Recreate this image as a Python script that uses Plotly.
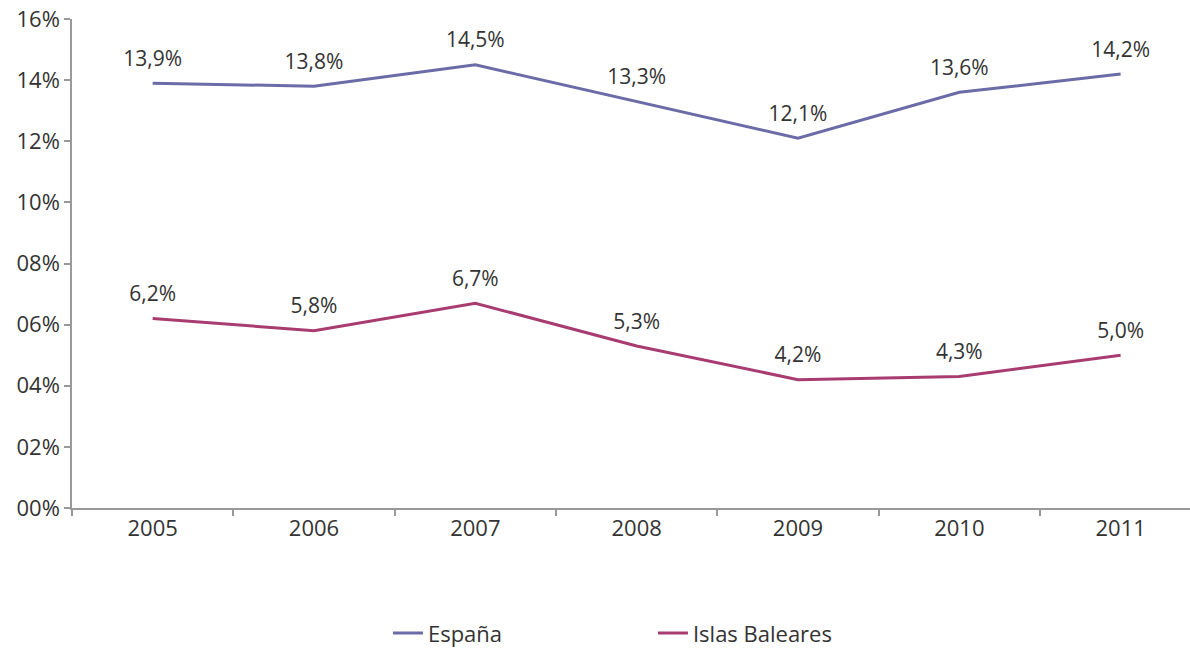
import plotly.graph_objects as go

years = ["2005", "2006", "2007", "2008", "2009", "2010", "2011"]
espana = [13.9, 13.8, 14.5, 13.3, 12.1, 13.6, 14.2]
baleares = [6.2, 5.8, 6.7, 5.3, 4.2, 4.3, 5.0]
y_tickvals = [0, 2, 4, 6, 8, 10, 12, 14, 16]
y_ticktext = ["00%", "02%", "04%", "06%", "08%", "10%", "12%", "14%", "16%"]

FONT = "Open Sans"
series = [("España", espana, "#6b6ba8"), ("Islas Baleares", baleares, "#a83c71")]

fig = go.Figure()
for name, vals, color in series:
    fig.add_trace(go.Scatter(
        x=years, y=vals, name=name,
        mode="lines+markers+text",
        line=dict(color=color, width=3),
        marker=dict(size=18, color="rgba(0,0,0,0)"),
        text=[f"{v:.1f}%".replace(".", ",") for v in vals],
        textposition="top center",
        textfont=dict(family=FONT, size=21, color="#333333"),
        cliponaxis=False,
    ))

fig.update_layout(
    width=1190, height=652,
    margin=dict(l=72, r=0, t=19, b=144, autoexpand=False),
    paper_bgcolor="white", plot_bgcolor="white",
    font=dict(family=FONT, size=22, color="#333333"),
    showlegend=True,
    legend=dict(orientation="h", x=0.2826, xanchor="left", y=-0.256, yanchor="middle",
                font=dict(family=FONT, size=22, color="#333333"),
                entrywidth=220, itemwidth=30, traceorder="normal", bgcolor="rgba(0,0,0,0)"),
    xaxis=dict(type="category", range=[-0.5, 6.43], tickson="boundaries", automargin=False,
               ticks="outside", ticklen=6, tickcolor="#999999", tickwidth=1.5,
               showline=True, linecolor="#999999", linewidth=1.5,
               showgrid=False, zeroline=False, ticklabeloverflow="allow",
               tickfont=dict(family=FONT, size=22, color="#333333")),
    yaxis=dict(range=[0, 16], tickvals=y_tickvals, ticktext=y_ticktext, automargin=False,
               ticks="outside", ticklen=6, tickcolor="#999999", tickwidth=1.5,
               showline=True, linecolor="#999999", linewidth=1.5,
               showgrid=False, zeroline=False, ticklabeloverflow="allow",
               tickfont=dict(family=FONT, size=22, color="#333333")),
)

fig.write_html("out.html", config={"displayModeBar": False},
               post_script="document.body.style.margin='0';")
